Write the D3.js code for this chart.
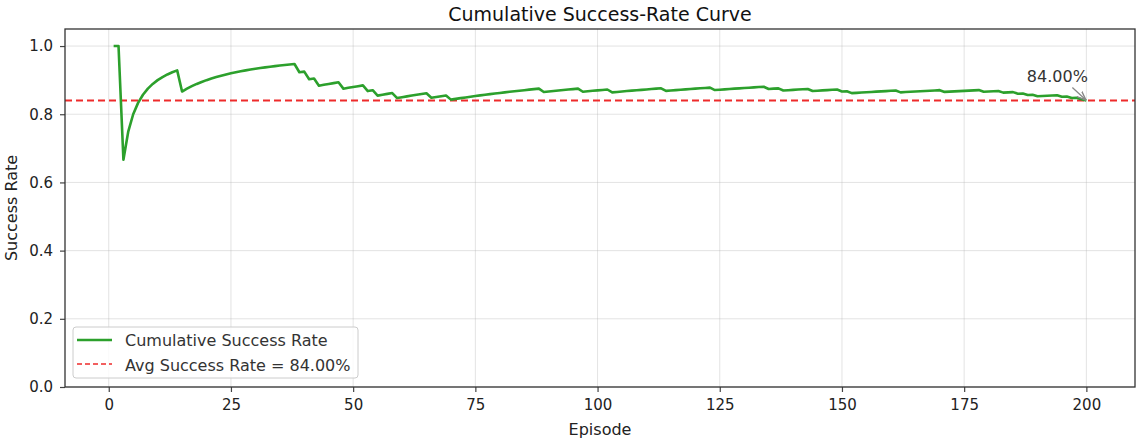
<!DOCTYPE html>
<html>
<head>
<meta charset="utf-8">
<script src="https://cdn.jsdelivr.net/npm/d3@7"></script>
<style>
  body { margin: 0; background: #fff; }
  text { font-family: "DejaVu Sans", sans-serif; }
</style>
</head>
<body>
<div id="chart-area"></div>
<script>
const WIDTH = 1143;
const HEIGHT = 441;
const margin = { left: 65, right: 8, top: 29, bottom: 54 };
const PLOT_W = WIDTH - margin.left - margin.right;
const PLOT_H = HEIGHT - margin.top - margin.bottom;

// outcomes: 200 episodes, these ones failed
const numEpisodes = 200;
const failedEpisodes = [3, 15, 39, 41, 43, 48, 53, 55, 59, 66, 70, 89, 97, 103, 114, 124,
    135, 138, 144, 150, 152, 162, 171, 179, 183, 186, 188, 190, 195, 197, 199, 200];
const avgRate = 0.84;
const xTicks = [0, 25, 50, 75, 100, 125, 150, 175, 200];
const yTicks = [0.0, 0.2, 0.4, 0.6, 0.8, 1.0];

// running success rate
const failSet = new Set(failedEpisodes);
const data = [];
let wins = 0;
for (let ep = 1; ep <= numEpisodes; ep++) {
    if (!failSet.has(ep)) wins++;
    data.push({ episode: ep, rate: wins / ep });
}

const svg = d3.select("#chart-area").append("svg").attr("width", WIDTH).attr("height", HEIGHT);
const group = svg.append("g").attr("transform", `translate(${margin.left},${margin.top})`);

const pad = (numEpisodes - 1) * 0.05;
const x = d3.scaleLinear().domain([1 - pad, numEpisodes + pad]).range([0, PLOT_W]);
const y = d3.scaleLinear().domain([0, 1.05]).range([PLOT_H, 0]);

// grid
group.append("g").selectAll("line").data(xTicks).join("line")
    .attr("x1", d => x(d)).attr("x2", d => x(d)).attr("y1", 0).attr("y2", PLOT_H)
    .attr("stroke", "#b0b0b0").attr("stroke-opacity", 0.35).attr("stroke-width", 1);
group.append("g").selectAll("line").data(yTicks).join("line")
    .attr("x1", 0).attr("x2", PLOT_W).attr("y1", d => y(d)).attr("y2", d => y(d))
    .attr("stroke", "#b0b0b0").attr("stroke-opacity", 0.35).attr("stroke-width", 1);

// average line
group.append("line")
    .attr("x1", 0).attr("x2", PLOT_W).attr("y1", y(avgRate)).attr("y2", y(avgRate))
    .attr("stroke", "#ee2b2b").attr("stroke-width", 2).attr("stroke-dasharray", "7,4");

// curve
const line = d3.line().x(d => x(d.episode)).y(d => y(d.rate));
group.append("path").datum(data)
    .attr("d", line).attr("fill", "none")
    .attr("stroke", "#2ca02c").attr("stroke-width", 2.6).attr("stroke-linejoin", "round");

// axes
const xAxisGroup = group.append("g").attr("transform", `translate(0,${PLOT_H})`)
    .call(d3.axisBottom(x).tickValues(xTicks).tickSize(5).tickPadding(7).tickFormat(d3.format("d")));
const yAxisGroup = group.append("g")
    .call(d3.axisLeft(y).tickValues(yTicks).tickSize(5).tickPadding(7).tickFormat(d3.format(".1f")));
[xAxisGroup, yAxisGroup].forEach(g => {
    g.select(".domain").remove();
    g.selectAll(".tick line").attr("stroke", "#444").attr("stroke-width", 1.2);
    g.selectAll(".tick text").attr("fill", "#222").attr("font-size", "15px")
        .attr("font-family", "DejaVu Sans, sans-serif");
});

// frame
group.append("rect").attr("width", PLOT_W).attr("height", PLOT_H)
    .attr("fill", "none").attr("stroke", "#333").attr("stroke-width", 1.3);

// annotation of last value
const last = data[data.length - 1];
svg.append("defs").append("marker").attr("id", "arrow")
    .attr("viewBox", "0 0 10 10").attr("refX", 9).attr("refY", 5)
    .attr("markerWidth", 7).attr("markerHeight", 7).attr("orient", "auto")
    .append("path").attr("d", "M0,1 L10,5 L0,9").attr("fill", "none").attr("stroke", "#888").attr("stroke-width", 1.5);
group.append("line")
    .attr("x1", x(last.episode) - 14).attr("y1", y(last.rate) - 13)
    .attr("x2", x(last.episode) - 1).attr("y2", y(last.rate) - 1)
    .attr("stroke", "#888").attr("stroke-width", 1.3).attr("marker-end", "url(#arrow)");
group.append("text")
    .attr("x", x(last.episode) - 29).attr("y", y(last.rate) - 19)
    .attr("text-anchor", "middle").attr("font-size", "16px").attr("fill", "#333")
    .text(d3.format(".2%")(last.rate));

// legend
const legend = group.append("g").attr("transform", "translate(8,298)");
legend.append("rect").attr("width", 285).attr("height", 51).attr("rx", 3)
    .attr("fill", "#fff").attr("fill-opacity", 0.8).attr("stroke", "#ccc");
legend.append("line").attr("x1", 4).attr("x2", 39).attr("y1", 13).attr("y2", 13)
    .attr("stroke", "#2ca02c").attr("stroke-width", 2.6);
legend.append("line").attr("x1", 4).attr("x2", 39).attr("y1", 37).attr("y2", 37)
    .attr("stroke", "#ee2b2b").attr("stroke-width", 1.5).attr("stroke-dasharray", "5,3");
legend.append("text").attr("x", 52).attr("y", 19).attr("font-size", "16px").attr("fill", "#333")
    .text("Cumulative Success Rate");
legend.append("text").attr("x", 52).attr("y", 44).attr("font-size", "16px").attr("fill", "#333")
    .text(`Avg Success Rate = ${d3.format(".2%")(avgRate)}`);

// labels
svg.append("text").attr("x", margin.left + PLOT_W / 2).attr("y", 21)
    .attr("text-anchor", "middle").attr("font-size", "19px").attr("fill", "#111")
    .text("Cumulative Success-Rate Curve");
svg.append("text").attr("x", margin.left + PLOT_W / 2).attr("y", 435)
    .attr("text-anchor", "middle").attr("font-size", "16px").attr("fill", "#222")
    .text("Episode");
svg.append("text").attr("transform", `translate(17,${margin.top + PLOT_H / 2}) rotate(-90)`)
    .attr("text-anchor", "middle").attr("font-size", "16px").attr("fill", "#222")
    .text("Success Rate");
</script>
</body>
</html>
